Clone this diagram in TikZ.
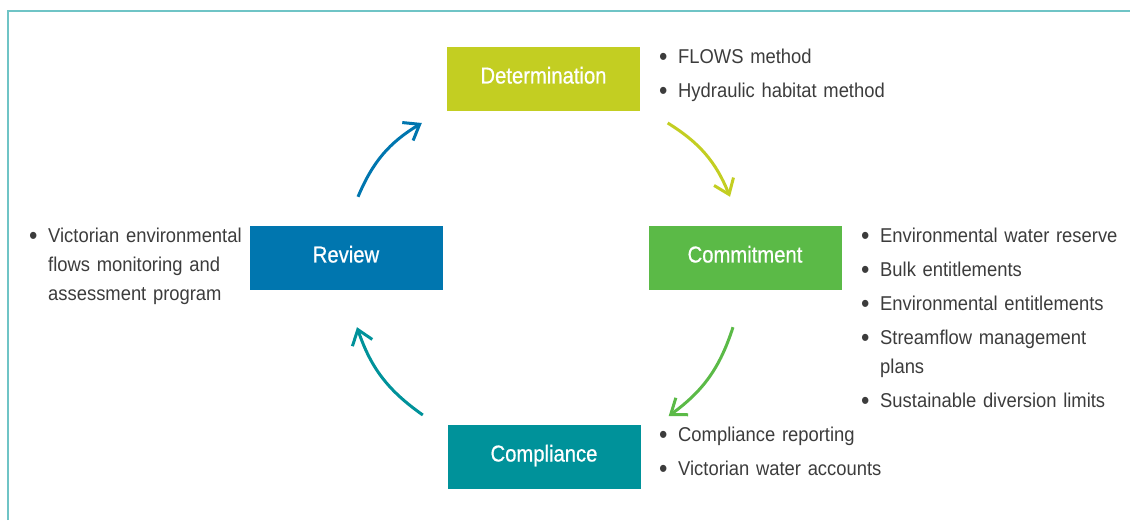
\documentclass[tikz,border=0pt]{standalone}
\usepackage{fontspec}
\setmainfont[FakeStretch=0.92]{Liberation Sans}
\newfontfamily\stagefont[FakeStretch=0.88,FakeBold=0.7]{Liberation Sans}
\usepackage{xcolor}
\usepackage{tikz}
\usetikzlibrary{arrows.meta,calc}
\definecolor{lime}{HTML}{C3CE22}
\definecolor{leaf}{HTML}{5BBA47}
\definecolor{ocean}{HTML}{0076AF}
\definecolor{sea}{HTML}{00929A}
\definecolor{rim}{HTML}{6FC4C6}
\definecolor{ink}{HTML}{3C3C3C}
\newcommand{\itemdot}{\leavevmode\llap{\raisebox{-2pt}{\fontsize{26}{26}\selectfont\textbullet}\hspace{10.8pt}}}

\begin{document}
\begin{tikzpicture}[x=1pt,y=1pt,
  stage/.style={minimum width=193pt,minimum height=64pt,inner sep=0pt,text height=16pt,text depth=7pt,text=white,font=\stagefont\fontsize{23}{26}\selectfont},
  itm/.style={anchor=base west,inner sep=0pt,text width=250pt,align=left,text=ink,font=\fontsize{20}{29}\selectfont},
  a/.style={-{Straight Barb[length=14pt,width=21pt]},line width=3pt,bend left=18}
]
\useasboundingbox (0,0) rectangle (1130,520);
\draw[rim,line width=2pt] (8,0) -- (8,509) -- (1130,509);
% the four stages
\node[stage,fill=lime] (det) at (543.5,441) {Determination};
\node[stage,fill=leaf] (com) at (745,262) {Commitment};
\node[stage,fill=ocean] (rev) at (346,262) {Review};
\node[stage,fill=sea] (cmp) at (544,63) {Compliance};
% what each stage covers
\node[itm] (detl) at (678,456) {\itemdot FLOWS method\\[5pt]\itemdot Hydraulic habitat method};
\node[itm] (coml) at (880,277) {\itemdot Environmental water reserve\\[5pt]\itemdot Bulk entitlements\\[5pt]\itemdot Environmental entitlements\\[5pt]\itemdot Streamflow management\\plans\\[5pt]\itemdot Sustainable diversion limits};
\node[itm] (cmpl) at (678,79) {\itemdot Compliance reporting\\[5pt]\itemdot Victorian water accounts};
\node[itm] (revl) at (48,277) {\itemdot Victorian environmental\\flows monitoring and\\assessment program};
% cycle arrows
\coordinate (a1s) at ($(rev.north)+(12,29)$);
\coordinate (a1e) at ($(det.west)+(-25,-44)$);
\coordinate (a2s) at ($(det.east)+(27.5,-44)$);
\coordinate (a2e) at ($(com.north)+(-15,29)$);
\coordinate (a3s) at ($(com.south)+(-12,-37)$);
\coordinate (a3e) at ($(cmp.east)+(28,41)$);
\coordinate (a4s) at ($(cmp.west)+(-24.5,42)$);
\coordinate (a4e) at ($(rev.south)+(11,-37)$);
\draw[a,ocean] (a1s) to (a1e);
\draw[a,lime] (a2s) to (a2e);
\draw[a,leaf] (a3s) to (a3e);
\draw[a,sea] (a4s) to (a4e);
\end{tikzpicture}
\end{document}
